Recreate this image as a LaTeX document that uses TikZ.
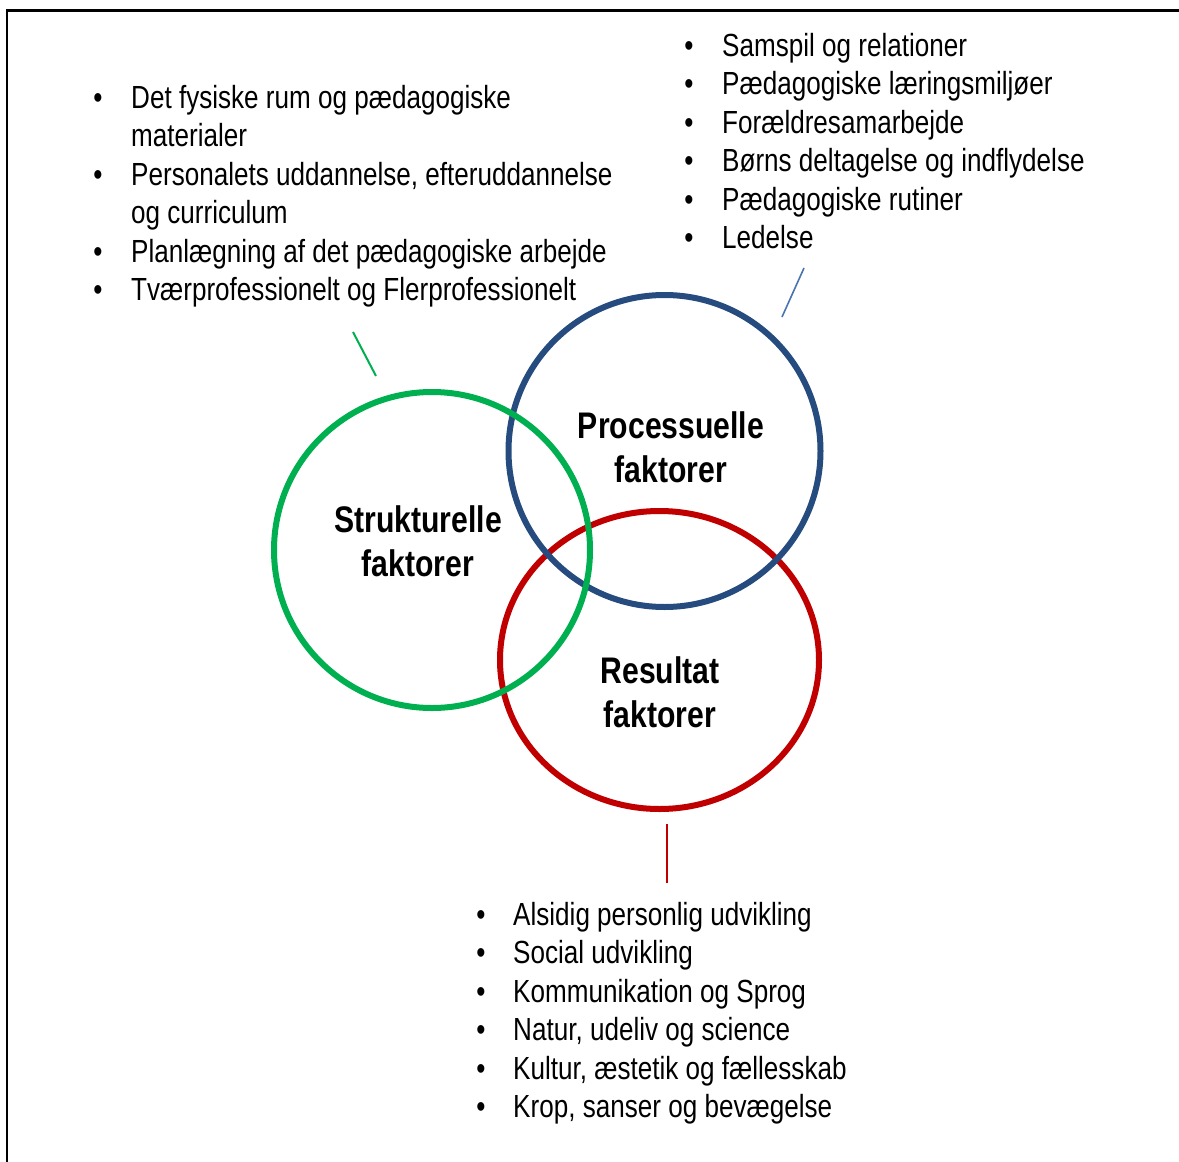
\documentclass[tikz,border=0pt]{standalone}
\usepackage{fontspec}
\setmainfont[FakeStretch=0.815]{Liberation Sans}
\usetikzlibrary{shapes.geometric}
\definecolor{vgreen}{HTML}{00B050}
\definecolor{vblue}{HTML}{264B7E}
\definecolor{vred}{HTML}{C00000}
\definecolor{lblue}{HTML}{4A74B0}
\tikzset{
  ring/.style={draw, line width=6pt, inner sep=0pt},
  itemtext/.style={anchor=base west, inner sep=0pt, font=\fontsize{32}{38.4}\selectfont},
  bul/.style={anchor=base, inner sep=0pt, font=\fontsize{32}{38.4}\selectfont},
  lab/.style={anchor=base, inner sep=0pt, font=\fontsize{37}{44}\selectfont\bfseries},
  conn/.style={line width=2pt},
  frame/.style={line width=2.5pt, black}
}
\begin{document}
\begin{tikzpicture}[x=1pt,y=-1pt]
\useasboundingbox (0,0) rectangle (1179,1162);
% frame
\coordinate (f1) at (7,1162);
\coordinate (f2) at (7,10.5);
\coordinate (f3) at (1179,10.5);
\draw[frame] (f1) -- (f2) -- (f3);

% rings
\node[ring, vred, ellipse, minimum width=319pt, minimum height=298pt] (R) at (659.5,660) {};
\node[ring, vblue, circle, minimum size=312pt] (B) at (664.5,451) {};
\node[ring, vgreen, circle, minimum size=316pt] (G) at (432,550) {};

% ring labels
\node[lab] (p1) at (671,438) {Processuelle};
\node[lab] (p2) at (671,482) {faktorer};
\node[lab] (s1) at (418,532) {Strukturelle};
\node[lab] (s2) at (418,576) {faktorer};
\node[lab] (r1) at (660,683) {Resultat};
\node[lab] (r2) at (660,727) {faktorer};

% connectors
\coordinate (gc1) at (353,332);
\coordinate (gc2) at (376,376);
\draw[conn, vgreen] (gc1) -- (gc2);
\coordinate (bc1) at (804,268);
\coordinate (bc2) at (782,317);
\draw[conn, lblue, line width=1.6pt] (bc1) -- (bc2);
\coordinate (rc1) at (667,824);
\coordinate (rc2) at (667,883);
\draw[conn, vred] (rc1) -- (rc2);

% left list
\node[bul] (lb1) at (98,108) {•};
\node[itemtext] (lt1) at (131,108) {Det fysiske rum og pædagogiske};
\node[itemtext] (lt1b) at (131,146.5) {materialer};
\node[bul] (lb2) at (98,185) {•};
\node[itemtext] (lt2) at (131,185) {Personalets uddannelse,\ efteruddannelse};
\node[itemtext] (lt2b) at (131,223.5) {og curriculum};
\node[bul] (lb3) at (98,262) {•};
\node[itemtext] (lt3) at (131,262) {Planlægning af det pædagogiske\ arbejde};
\node[bul] (lb4) at (98,300.5) {•};
\node[itemtext] (lt4) at (131,300.5) {Tværprofessionelt og Flerprofessionelt};

% right list
\node[bul] (rb1) at (689,56) {•};
\node[itemtext] (rt1) at (722,56) {Samspil og relationer};
\node[bul] (rb2) at (689,94.5) {•};
\node[itemtext] (rt2) at (722,94.5) {Pædagogiske læringsmiljøer};
\node[bul] (rb3) at (689,133) {•};
\node[itemtext] (rt3) at (722,133) {Forældresamarbejde};
\node[bul] (rb4) at (689,171.5) {•};
\node[itemtext] (rt4) at (722,171.5) {Børns deltagelse og indflydelse};
\node[bul] (rb5) at (689,210) {•};
\node[itemtext] (rt5) at (722,210) {Pædagogiske rutiner};
\node[bul] (rb6) at (689,248.5) {•};
\node[itemtext] (rt6) at (722,248.5) {Ledelse};

% bottom list
\node[bul] (bb1) at (481,925) {•};
\node[itemtext] (bt1) at (513,925) {Alsidig personlig udvikling};
\node[bul] (bb2) at (481,963.5) {•};
\node[itemtext] (bt2) at (513,963.5) {Social udvikling};
\node[bul] (bb3) at (481,1002) {•};
\node[itemtext] (bt3) at (513,1002) {Kommunikation og Sprog};
\node[bul] (bb4) at (481,1040.5) {•};
\node[itemtext] (bt4) at (513,1040.5) {Natur, udeliv og science};
\node[bul] (bb5) at (481,1079) {•};
\node[itemtext] (bt5) at (513,1079) {Kultur, æstetik og fællesskab};
\node[bul] (bb6) at (481,1117.5) {•};
\node[itemtext] (bt6) at (513,1117.5) {Krop, sanser og bevægelse};
\end{tikzpicture}
\end{document}
